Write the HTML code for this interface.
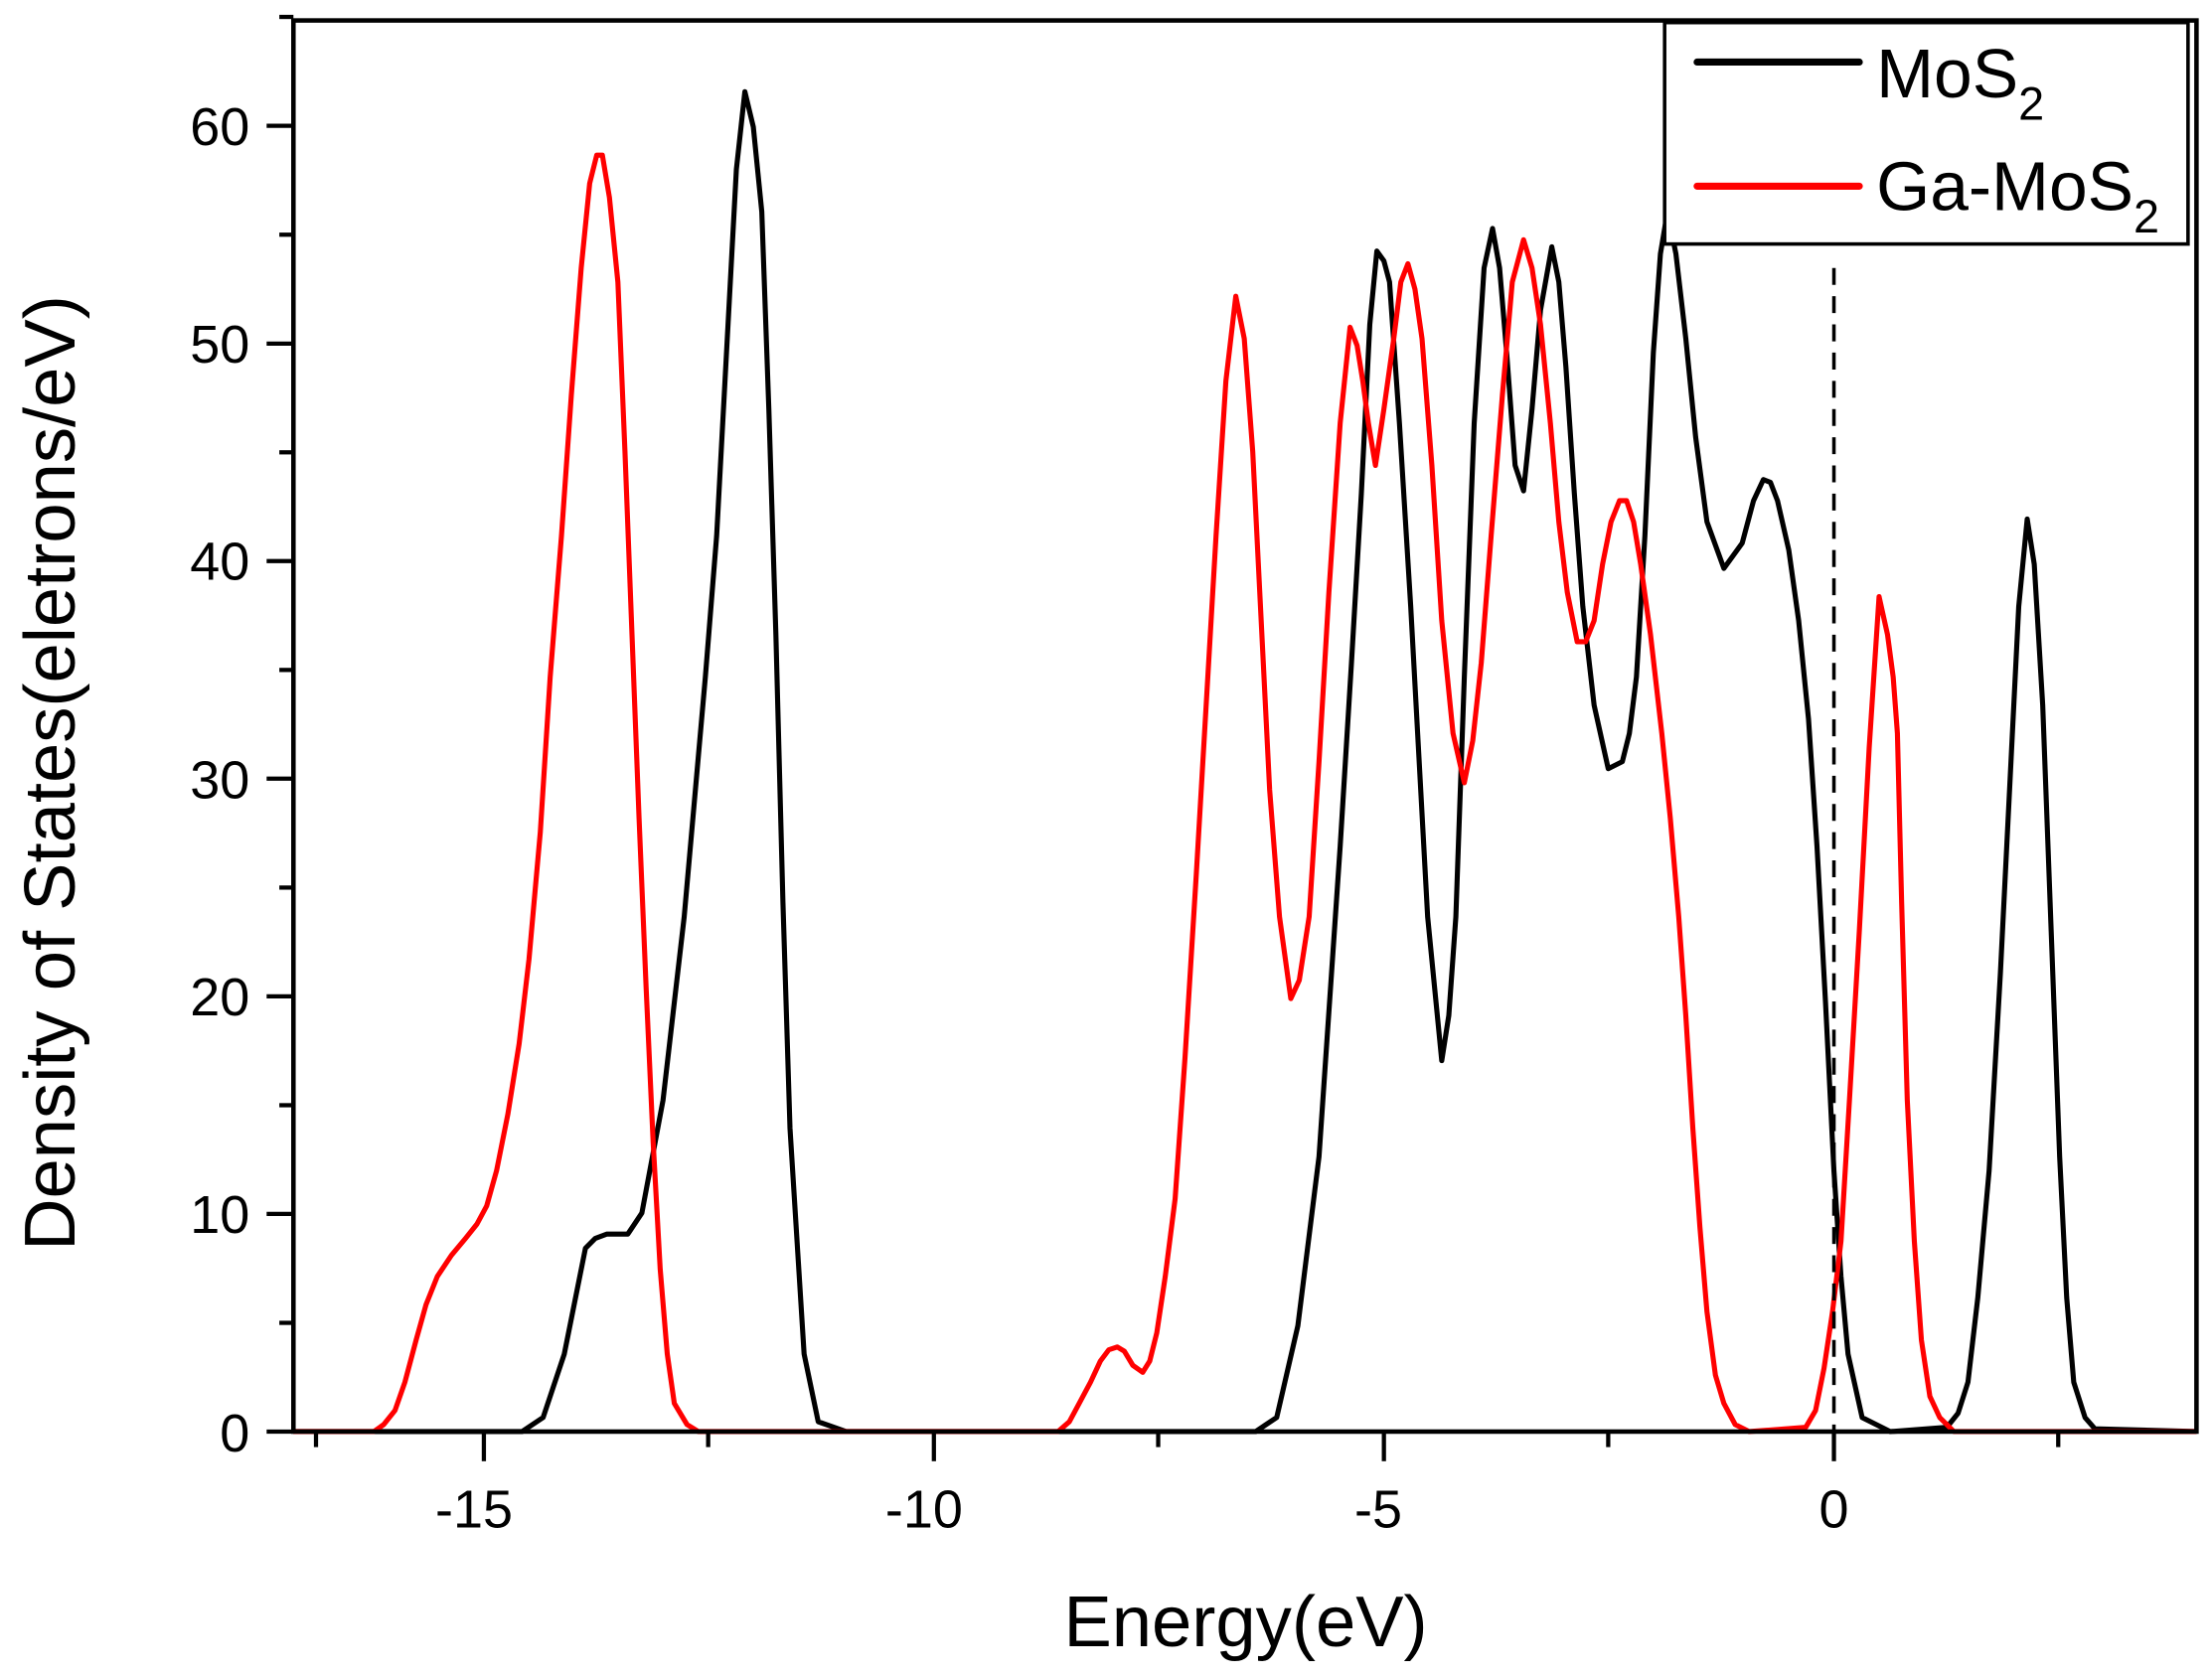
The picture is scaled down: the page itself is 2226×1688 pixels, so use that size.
<!DOCTYPE html>
<html><head><meta charset="utf-8"><style>html,body{margin:0;padding:0;background:#fff}svg{display:block}</style></head>
<body>
<svg width="2226" height="1688" viewBox="0 0 1568 1189" preserveAspectRatio="none" xmlns="http://www.w3.org/2000/svg" font-family="Liberation Sans, Arial, sans-serif">
<rect width="1568" height="1189" fill="#fff"/>
<polyline fill="none" stroke="#000" stroke-width="3.6" stroke-linejoin="round" points="208,1015 370,1015 385,1005 400,960 415,885 422,878 430,875 445,875 455,860 470,780 485,650 500,480 508,380 515,250 522,120 528,65 534,90 540,150 545,290 550,450 555,640 560,800 570,960 580,1008 600,1015 890,1015 905,1005 920,940 935,820 950,600 958,470 965,350 971,230 976,178 981,185 985,200 992,300 1000,430 1012,650 1022,752 1027,720 1032,650 1038,480 1045,300 1052,190 1058,162 1063,190 1068,250 1074,330 1080,348 1086,290 1092,220 1100,175 1105,200 1110,260 1116,350 1122,430 1130,500 1140,545 1150,540 1155,520 1160,480 1166,380 1172,250 1177,180 1182,150 1188,180 1195,240 1202,310 1210,370 1222,403 1235,385 1243,355 1250,340 1255,342 1260,355 1268,390 1275,440 1282,510 1288,600 1294,710 1300,830 1305,905 1310,960 1320,1005 1340,1015 1380,1012 1388,1002 1395,980 1402,920 1410,830 1418,690 1425,550 1431,430 1437,368 1442,400 1448,500 1454,660 1460,820 1465,920 1470,980 1478,1005 1485,1013 1557,1015"/>
<polyline fill="none" stroke="#f00" stroke-width="3.6" stroke-linejoin="round" points="208,1015 265,1015 272,1010 280,1000 287,980 295,950 302,925 310,905 320,890 330,878 338,868 345,855 352,830 360,790 368,740 375,680 383,590 390,480 398,380 405,280 412,190 418,130 423,110 427,110 432,140 438,200 443,320 448,450 453,580 458,700 463,810 468,900 473,960 478,995 487,1010 495,1015 750,1015 758,1008 765,995 773,980 780,965 786,957 792,955 797,958 803,968 810,973 815,965 820,945 826,905 833,850 840,750 848,620 855,500 862,380 869,270 876,210 882,240 888,320 894,440 900,560 907,650 915,708 921,695 928,650 935,540 942,420 950,300 957,232 962,245 966,270 970,300 975,330 981,290 988,240 993,200 998,187 1003,205 1008,240 1015,330 1022,440 1030,520 1038,555 1044,525 1050,470 1057,380 1065,280 1072,200 1080,170 1086,190 1092,230 1099,300 1105,370 1111,420 1118,455 1124,455 1130,440 1136,400 1142,370 1148,355 1153,355 1158,370 1163,400 1170,450 1178,520 1184,580 1190,650 1195,720 1200,800 1205,870 1210,930 1216,975 1222,995 1230,1010 1240,1015 1280,1012 1287,1000 1293,970 1299,930 1305,880 1311,780 1318,660 1325,530 1332,423 1338,450 1342,480 1345,520 1348,640 1352,780 1357,880 1362,950 1368,990 1375,1005 1385,1015 1557,1015"/>
<line x1="1300" y1="190" x2="1300" y2="1015" stroke="#000" stroke-width="2.5" stroke-dasharray="12,8"/>
<rect x="208" y="14.5" width="1349" height="1000.5" fill="none" stroke="#000" stroke-width="3.2"/>
<g stroke="#000" stroke-width="3">
<line x1="343" y1="1015" x2="343" y2="1036"/><line x1="662" y1="1015" x2="662" y2="1036"/><line x1="981" y1="1015" x2="981" y2="1036"/><line x1="1300" y1="1015" x2="1300" y2="1036"/>
<line x1="502" y1="1015" x2="502" y2="1026"/><line x1="821" y1="1015" x2="821" y2="1026"/><line x1="1140" y1="1015" x2="1140" y2="1026"/><line x1="1459" y1="1015" x2="1459" y2="1026"/><line x1="224" y1="1015" x2="224" y2="1026"/>
<line x1="189" y1="1015" x2="208" y2="1015"/><line x1="198" y1="937.9" x2="208" y2="937.9"/>
<line x1="189" y1="860.7" x2="208" y2="860.7"/><line x1="198" y1="783.6" x2="208" y2="783.6"/>
<line x1="189" y1="706.4" x2="208" y2="706.4"/><line x1="198" y1="629.3" x2="208" y2="629.3"/>
<line x1="189" y1="552.1" x2="208" y2="552.1"/><line x1="198" y1="475" x2="208" y2="475"/>
<line x1="189" y1="397.8" x2="208" y2="397.8"/><line x1="198" y1="320.7" x2="208" y2="320.7"/>
<line x1="189" y1="243.6" x2="208" y2="243.6"/><line x1="198" y1="166.4" x2="208" y2="166.4"/>
<line x1="189" y1="89.2" x2="208" y2="89.2"/><line x1="198" y1="12" x2="208" y2="12"/>
</g>
<g font-size="38" text-anchor="middle" fill="#000">
<text x="336" y="1083">-15</text><text x="655" y="1083">-10</text><text x="977" y="1083">-5</text><text x="1300" y="1083">0</text>
</g>
<g font-size="38" text-anchor="end" fill="#000">
<text x="177" y="1029">0</text><text x="177" y="874">10</text><text x="177" y="720">20</text><text x="177" y="566">30</text><text x="177" y="411">40</text><text x="177" y="257">50</text><text x="177" y="103">60</text>
</g>
<text x="883" y="1167" font-size="51" text-anchor="middle">Energy(eV)</text>
<text transform="translate(53,548) rotate(-90)" font-size="51" text-anchor="middle">Density of States(eletrons/eV)</text>
<rect x="1180" y="16" width="371" height="157" fill="#fff" stroke="#000" stroke-width="2.5"/>
<line x1="1203" y1="44" x2="1318" y2="44" stroke="#000" stroke-width="5" stroke-linecap="round"/>
<line x1="1203" y1="132" x2="1318" y2="132" stroke="#f00" stroke-width="5" stroke-linecap="round"/>
<text x="1330" y="69" font-size="49">MoS<tspan font-size="33" dy="16">2</tspan></text>
<text x="1330" y="149" font-size="49">Ga-MoS<tspan font-size="33" dy="16">2</tspan></text>
</svg>
</body></html>
